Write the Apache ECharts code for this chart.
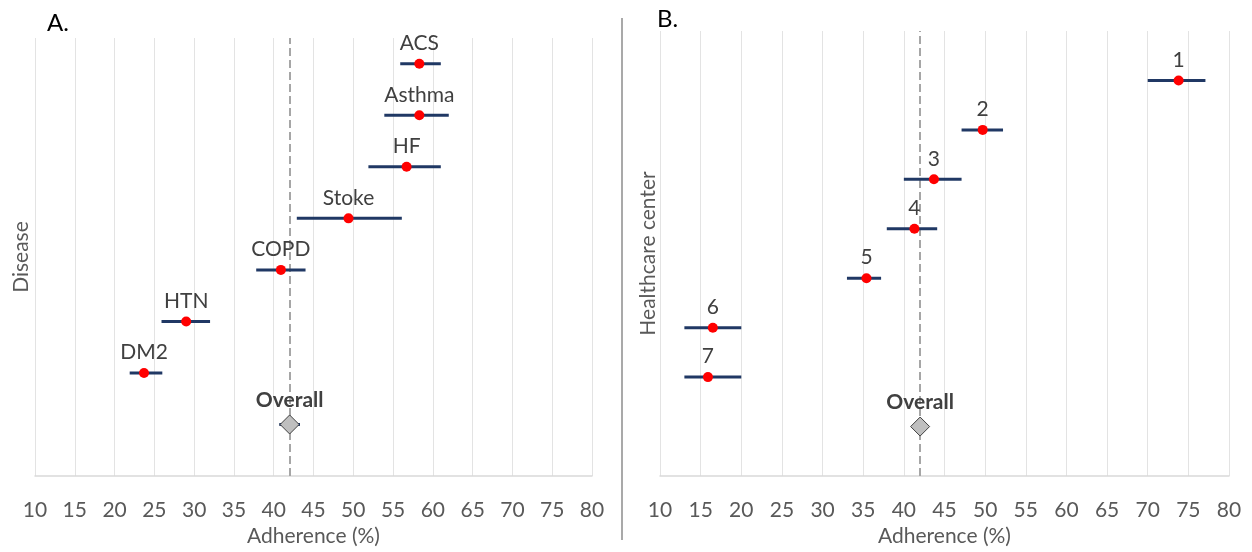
<!DOCTYPE html>
<html><head><meta charset="utf-8">
<script src="https://cdn.jsdelivr.net/npm/echarts@6/dist/echarts.min.js"></script>
<style>html,body{margin:0;padding:0;background:#fff}#c{width:1252px;height:552px}</style>
</head><body><div id="c"></div>
<script>
// Panel A: Disease
const diseaseLabels = ['ACS','Asthma','HF','Stoke','COPD','HTN','DM2','Overall'];
const diseaseMean   = [58.3, 58.3, 56.7, 49.4, 40.9, 29.0, 23.7, 42.0];
const diseaseLow    = [55.9, 53.9, 51.9, 42.9, 37.8, 25.9, 21.9, 40.7];
const diseaseHigh   = [61.0, 62.0, 61.0, 56.1, 44.0, 32.0, 26.0, 43.3];
// Panel B: Healthcare center
const centerLabels = ['1','2','3','4','5','6','7','Overall'];
const centerMean   = [73.8, 49.7, 43.7, 41.3, 35.4, 16.5, 15.9, 42.0];
const centerLow    = [70.0, 47.1, 40.0, 37.9, 33.0, 13.0, 13.0, null];
const centerHigh   = [77.1, 52.2, 47.1, 44.1, 37.2, 20.0, 20.0, null];
const overallA = 42.0;
const overallB = 42.0;
const xMin = 10, xMax = 80, xStep = 5;

const FONT = 'Lato';
const FS = 21;
const chart = echarts.init(document.getElementById('c'));

function errRender(params, api) {
  const lo = api.value(0), hi = api.value(1), y = api.value(2);
  if (lo == null || isNaN(lo) || hi == null || isNaN(hi)) return null;
  const a = api.coord([lo, y]), b = api.coord([hi, y]);
  return {type: 'line', shape: {x1: a[0], y1: a[1], x2: b[0], y2: b[1]},
          style: {stroke: '#203864', lineWidth: 3}};
}

function panelSeries(idx, labels, mean, low, high, overall) {
  const n = labels.length;
  const rank = i => n - i;
  const errData = [], dotData = [], ovData = [];
  labels.forEach((lab, i) => {
    errData.push([low[i], high[i], rank(i)]);
    if (lab === 'Overall') ovData.push({name: lab, value: [mean[i], rank(i)]});
    else dotData.push({name: lab, value: [mean[i], rank(i)]});
  });
  return [
    {type: 'custom', xAxisIndex: idx, yAxisIndex: idx, renderItem: errRender,
     encode: {x: [0, 1], y: 2}, data: errData, z: 2, silent: true},
    {type: 'scatter', xAxisIndex: idx, yAxisIndex: idx, data: dotData, symbolSize: 10,
     itemStyle: {color: '#ff0000', opacity: 1}, z: 4,
     label: {show: true, position: 'top', distance: 5, formatter: '{b}',
             fontFamily: FONT, fontSize: FS, color: '#404040'},
     markLine: {silent: true, symbol: 'none', label: {show: false},
                lineStyle: {color: '#a6a6a6', width: 2, type: [8, 4]},
                data: [{xAxis: overall}], z: 1}},
    {type: 'scatter', xAxisIndex: idx, yAxisIndex: idx, data: ovData, symbol: 'diamond',
     symbolSize: [19, 19], itemStyle: {color: '#bfbfbf', borderColor: '#404040', borderWidth: 1, opacity: 1}, z: 4,
     label: {show: true, position: 'top', distance: 4, formatter: '{b}',
             fontFamily: FONT, fontSize: FS, fontWeight: 'bold', color: '#404040'}}
  ];
}

function xAxis(idx) {
  return {type: 'value', gridIndex: idx, min: xMin, max: xMax, interval: xStep,
    axisLine: {show: true, lineStyle: {color: '#d9d9d9', width: 1.5}},
    axisTick: {show: false},
    splitLine: {show: true, lineStyle: {color: '#e3e3e3', width: 1}},
    axisLabel: {fontFamily: FONT, fontSize: FS, color: '#595959', margin: 24},
    name: 'Adherence (%)', nameLocation: 'middle', nameGap: 50,
    nameTextStyle: {fontFamily: FONT, fontSize: FS, color: '#595959'}};
}
function yAxis(idx, max, name, gap) {
  return {type: 'value', gridIndex: idx, min: 0, max: max,
    axisLine: {show: false}, axisTick: {show: false}, axisLabel: {show: false},
    splitLine: {show: false},
    name: name, nameLocation: 'middle', nameGap: gap,
    nameTextStyle: {fontFamily: FONT, fontSize: FS, color: '#595959'}};
}

chart.setOption({
  animation: false,
  backgroundColor: '#fff',
  title: [
    {text: 'A.', left: 42, top: 6, textStyle: {fontFamily: FONT, fontSize: 24, fontWeight: 'normal', color: '#000'}},
    {text: 'B.', left: 652, top: 2, textStyle: {fontFamily: FONT, fontSize: 24, fontWeight: 'normal', color: '#000'}}
  ],
  grid: [
    {left: 35, right: 660, top: 38, bottom: 75},
    {left: 660, right: 23, top: 31, bottom: 72}
  ],
  xAxis: [xAxis(0), xAxis(1)],
  yAxis: [yAxis(0, 8.5, 'Disease', 3), yAxis(1, 9, 'Healthcare center', 1)],
  graphic: [{type: 'line', shape: {x1: 622, y1: 18, x2: 622, y2: 540},
             style: {stroke: '#8c8c8c', lineWidth: 1.5}, silent: true}],
  series: [
    ...panelSeries(0, diseaseLabels, diseaseMean, diseaseLow, diseaseHigh, overallA),
    ...panelSeries(1, centerLabels, centerMean, centerLow, centerHigh, overallB)
  ]
});
</script></body></html>
